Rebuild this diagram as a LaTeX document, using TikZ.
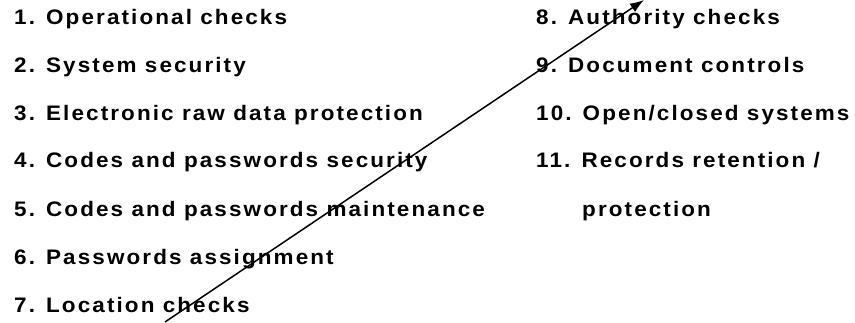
\documentclass[tikz,border=0pt]{standalone}
\usepackage{fontspec}
\usetikzlibrary{arrows.meta}
\newfontfamily\listfont[LetterSpace=10, FakeStretch=1.07]{Liberation Sans}
\begin{document}
\begin{tikzpicture}[x=1pt, y=1pt, every node/.style={anchor=base west, inner sep=0pt, font=\listfont\bfseries\fontsize{21}{25}\selectfont}]
				\useasboundingbox (0,0) rectangle (855,322);

				% left column
				\node (c1) at (14,297) {1. Operational checks};
				\node (c2) at (14,249) {2. System security};
				\node (c3) at (14,201) {3. Electronic raw data protection};
				\node (c4) at (14,154) {4. Codes and passwords security};
				\node (c5) at (14,106) {5. Codes and passwords maintenance};
				\node (c6) at (14,58) {6. Passwords assignment};
				\node (c7) at (14,10) {7. Location checks};

				% right column
				\node (c8) at (536,297) {8. Authority checks};
				\node (c9) at (536,249) {9. Document controls};
				\node (c10) at (536,201) {10. Open/closed systems};
				\node (c11) at (536,154) {11. Records retention /};
				\node (c11b) at (582,106) {protection};

				\coordinate (start) at (165,0);
				\coordinate (tip) at (644,322);
				\draw[-{Latex[length=14pt, width=10pt]}, line width=1.5pt] (start) -- (tip);
			\end{tikzpicture}
\end{document}
